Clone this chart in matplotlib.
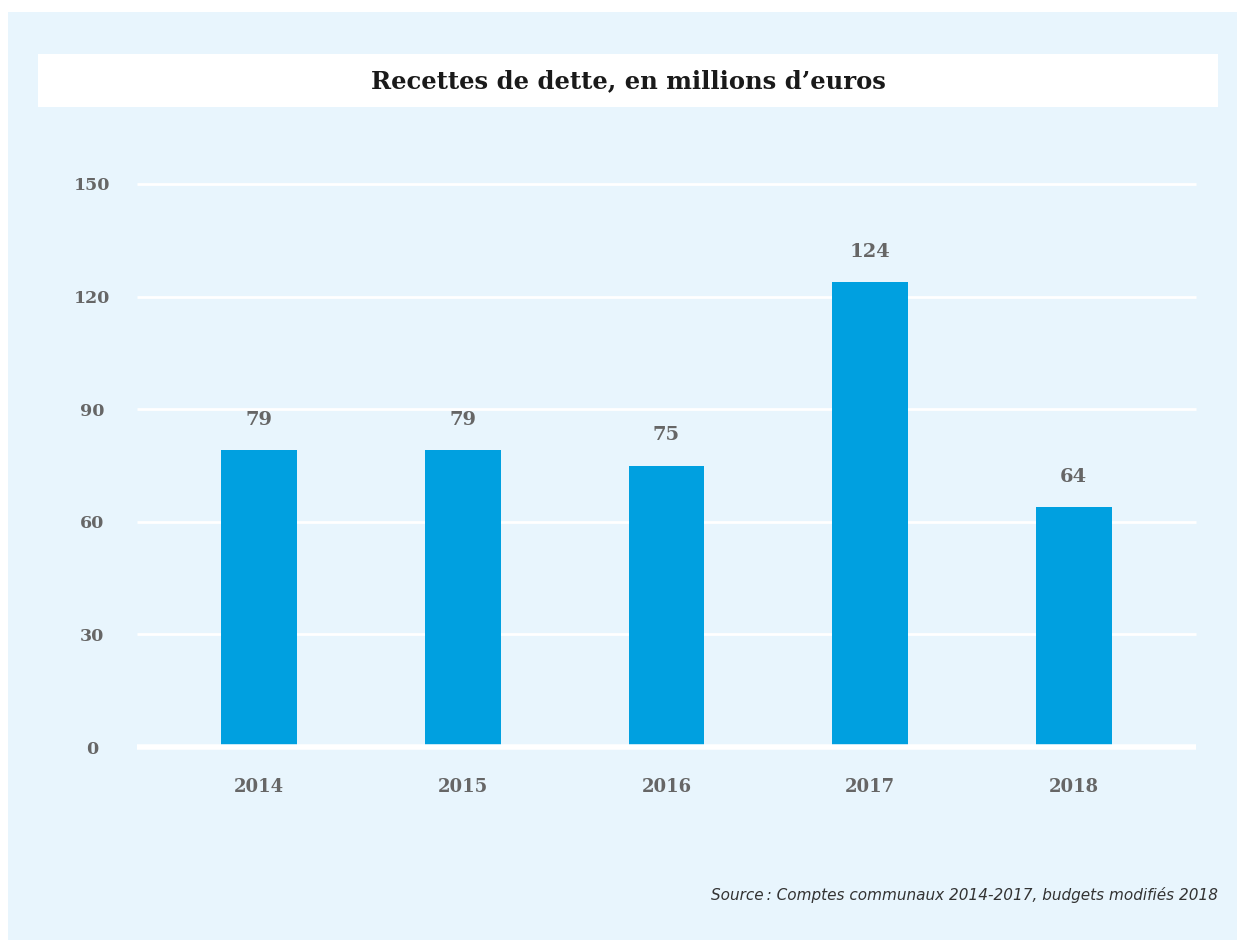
import matplotlib
matplotlib.use("Agg")
import matplotlib.pyplot as plt
from matplotlib.patches import Rectangle

years = ["2014", "2015", "2016", "2017", "2018"]
values = [79, 79, 75, 124, 64]
yticks = [0, 30, 60, 90, 120, 150]
title = "Recettes de dette, en millions d\u2019euros"
source = "Source\u202f: Comptes communaux 2014-2017, budgets modifiés 2018"

W, H = 1237, 941
fig = plt.figure(figsize=(W / 100, H / 100), dpi=100)
fig.patch.set_facecolor("white")

def fx(x): return x / W
def fy(y): return 1 - y / H

# light blue panel
fig.patches.append(Rectangle((fx(8), fy(940)), fx(1237) - fx(8), fy(12) - fy(940),
                             transform=fig.transFigure, facecolor="#E8F5FD", edgecolor="none", zorder=-2))
# white title box
fig.patches.append(Rectangle((fx(38), fy(107)), fx(1218) - fx(38), fy(54) - fy(107),
                             transform=fig.transFigure, facecolor="white", edgecolor="none", zorder=-1))
fig.text(fx(628), fy(81), title, ha="center", va="center", fontsize=17.5, fontweight="bold",
         family="DejaVu Serif", color="#1a1a1a")

ax = fig.add_axes([fx(137), fy(747), fx(1196) - fx(137), fy(184) - fy(747)])
ax.set_zorder(5)
ax.set_facecolor("none")
x = list(range(len(years)))
bars = ax.bar(x, values, width=0.373, color="#00A0E0", zorder=3)
ax.set_xlim(-0.6, 4.6)
ax.set_ylim(0, 150)
ax.set_yticks(yticks)
for t in yticks:
    ax.axhline(t, color="white", lw=4 if t == 0 else 2, zorder=2 if t else 4,
               clip_on=False, solid_capstyle="butt")
for s in ax.spines.values():
    s.set_visible(False)
ax.tick_params(length=0)
ax.set_yticklabels([str(t) for t in yticks], fontsize=12.5, fontweight="bold",
                   family="DejaVu Serif", color="#666666")
ax.set_xticks(x)
ax.set_xticklabels(years, fontsize=13, fontweight="bold", family="DejaVu Serif", color="#666666")
for lab in ax.get_yticklabels():
    lab.set_horizontalalignment("center")
ax.tick_params(axis="y", pad=32.5)
ax.tick_params(axis="x", pad=22)
for xi, v in zip(x, values):
    ax.annotate(str(v), (xi, v), xytext=(0, 21), textcoords="offset pixels", ha="center", va="bottom",
                fontsize=14, fontweight="bold", family="DejaVu Serif", color="#666666")

fig.text(fx(1218), fy(895), source, ha="right", va="center", fontsize=11, style="italic",
         family="DejaVu Sans", color="#333333")

fig.savefig("out.png", dpi=100, facecolor=fig.get_facecolor())
